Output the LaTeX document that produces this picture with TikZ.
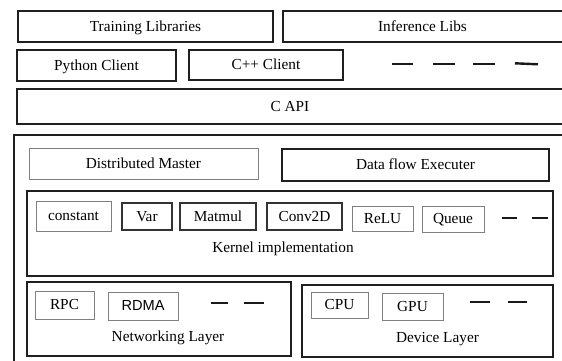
\documentclass[tikz,border=0pt]{standalone}
\usepackage{fontspec}
\setmainfont{Liberation Serif}
\newfontfamily\arialfont{Liberation Sans}
\begin{document}
\begin{tikzpicture}[x=1pt,y=-1pt,
  every node/.style={font=\fontsize{15.3}{17}\selectfont, inner sep=0pt, text height=0.97em, text depth=0pt},
  thickbox/.style={draw=black!88, line width=1.7pt},
  medbox/.style={draw=black!80, line width=1.1pt},
  thinbox/.style={draw=black!50, line width=0.9pt},
  dashmark/.style={draw=black!90, line width=2.4pt}]
\useasboundingbox (0,0) rectangle (562,361);
\clip (0,0) rectangle (562,361);
\fill[white] (0,0) rectangle (562,361);

% top rows
\node[thickbox, minimum width=255pt, minimum height=31pt] (train) at (145.5,26.5) {Training Libraries};
\node[thickbox, minimum width=284pt, minimum height=31pt] (infer) at (425,26.5) {};
\node (infertext) at (422.5,26.5) {Inference Libs};
\node[thickbox, minimum width=159pt, minimum height=31pt] (python) at (96.5,65.5) {Python Client};
\node[thickbox, minimum width=154pt, minimum height=30pt] (cpp) at (266,65) {C++ Client};
\coordinate (d1a) at (392,64); \coordinate (d1b) at (413,64);
\coordinate (d2a) at (433,64); \coordinate (d2b) at (455,64);
\coordinate (d3a) at (473,64); \coordinate (d3b) at (495,64);
\coordinate (d4a) at (515,63.3); \coordinate (d4b) at (538,64.3);
\draw[dashmark] (d1a) -- (d1b);
\draw[dashmark] (d2a) -- (d2b);
\draw[dashmark] (d3a) -- (d3b);
\draw[dashmark] (d4a) -- (d4b);
\node[thickbox, minimum width=552pt, minimum height=35pt] (capi) at (293,106.5) {};
\node (capitext) at (290,106.5) {C API};

% outer runtime box
\node[thickbox, minimum width=556pt, minimum height=235pt] (outer) at (292,252.5) {};

\node[thinbox, minimum width=229pt, minimum height=31pt] (master) at (143.5,163.5) {Distributed Master};
\node[thickbox, minimum width=267pt, minimum height=32pt] (dataflow) at (415.5,165) {Data flow Executer};

% kernel box
\node[thickbox, minimum width=526pt, minimum height=85pt] (kernel) at (290,233.5) {};
\node (kerneltext) at (283,248) {Kernel implementation};
\node[thinbox, minimum width=75pt, minimum height=30pt] (constant) at (73.5,216) {constant};
\node[medbox, minimum width=50pt, minimum height=27pt] (var) at (147,216.5) {Var};
\node[medbox, minimum width=76pt, minimum height=27pt] (matmul) at (218,216.5) {Matmul};
\node[medbox, minimum width=75pt, minimum height=27pt] (conv) at (304.5,216.5) {Conv2D};
\node[thinbox, minimum width=61pt, minimum height=25pt] (relu) at (382.5,218.5) {ReLU};
\node[thinbox, minimum width=62pt, minimum height=26pt] (queue) at (453,219) {Queue};
\coordinate (k1a) at (502,218); \coordinate (k1b) at (517,218);
\coordinate (k2a) at (532,218); \coordinate (k2b) at (548,218);
\draw[dashmark] (k1a) -- (k1b);
\draw[dashmark] (k2a) -- (k2b);

% networking layer
\node[thickbox, minimum width=264pt, minimum height=74pt] (net) at (159,319) {};
\node (nettext) at (168,337) {Networking Layer};
\node[thinbox, minimum width=59pt, minimum height=28pt] (rpc) at (64.5,305) {RPC};
\node[thinbox, minimum width=70pt, minimum height=28pt, font=\arialfont\fontsize{14.6}{17}\selectfont] (rdma) at (143,306) {RDMA};
\coordinate (n1a) at (211,303); \coordinate (n1b) at (228,303);
\coordinate (n2a) at (244,303); \coordinate (n2b) at (264,303);
\draw[dashmark] (n1a) -- (n1b);
\draw[dashmark] (n2a) -- (n2b);

% device layer
\node[thickbox, minimum width=251pt, minimum height=72pt] (dev) at (427.5,321) {};
\node (devtext) at (437.5,338) {Device Layer};
\node[thinbox, minimum width=57pt, minimum height=26pt] (cpu) at (339.5,305) {CPU};
\node[thinbox, minimum width=61pt, minimum height=27pt] (gpu) at (412.5,306.5) {GPU};
\coordinate (v1a) at (470,302); \coordinate (v1b) at (490,302);
\coordinate (v2a) at (508,302); \coordinate (v2b) at (527,302);
\draw[dashmark] (v1a) -- (v1b);
\draw[dashmark] (v2a) -- (v2b);
\end{tikzpicture}
\end{document}
